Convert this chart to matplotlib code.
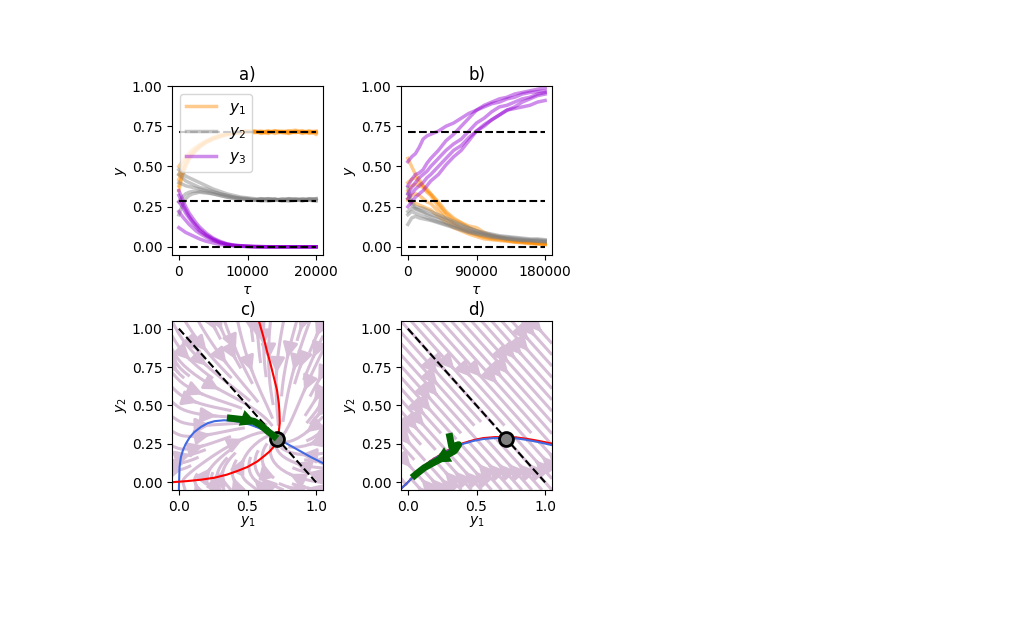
import numpy as np
from matplotlib import pyplot as plt

# time grids
tau_a = [0, 500, 1000, 1500, 2000, 2500, 3000, 4000, 5000, 6000, 7000, 8000,
         9000, 10000, 11000, 12000, 13000, 14000, 15000, 16000, 17000, 18000, 19000, 20000]
tau_b = [0, 5000, 10000, 15000, 20000, 25000, 30000, 40000, 50000, 60000, 70000,
         80000, 90000, 100000, 110000, 120000, 130000, 140000, 150000, 160000, 170000, 180000]

# panel a runs
a_y1 = [
    [0.50, 0.53, 0.56, 0.585, 0.605, 0.62, 0.635, 0.66, 0.68, 0.695, 0.705, 0.71, 0.715, 0.72, 0.715, 0.72, 0.71, 0.72, 0.715, 0.72, 0.725, 0.715, 0.72, 0.71],
    [0.45, 0.50, 0.54, 0.57, 0.595, 0.615, 0.63, 0.655, 0.675, 0.69, 0.70, 0.71, 0.715, 0.72, 0.71, 0.715, 0.72, 0.705, 0.715, 0.72, 0.71, 0.72, 0.705, 0.715],
    [0.42, 0.47, 0.52, 0.555, 0.58, 0.60, 0.62, 0.65, 0.67, 0.685, 0.70, 0.705, 0.71, 0.715, 0.72, 0.705, 0.715, 0.72, 0.71, 0.705, 0.715, 0.71, 0.72, 0.70],
    [0.38, 0.45, 0.51, 0.55, 0.58, 0.60, 0.625, 0.655, 0.675, 0.69, 0.70, 0.71, 0.72, 0.71, 0.72, 0.715, 0.705, 0.72, 0.715, 0.71, 0.72, 0.705, 0.715, 0.72],
    [0.35, 0.44, 0.50, 0.545, 0.575, 0.60, 0.62, 0.65, 0.67, 0.685, 0.695, 0.705, 0.71, 0.72, 0.715, 0.71, 0.72, 0.715, 0.72, 0.71, 0.715, 0.72, 0.71, 0.715],
]
a_y2 = [
    [0.48, 0.46, 0.44, 0.43, 0.42, 0.41, 0.40, 0.38, 0.36, 0.345, 0.33, 0.32, 0.31, 0.305, 0.30, 0.295, 0.30, 0.29, 0.295, 0.30, 0.29, 0.295, 0.30, 0.295],
    [0.45, 0.43, 0.41, 0.40, 0.39, 0.38, 0.37, 0.36, 0.345, 0.33, 0.32, 0.31, 0.305, 0.30, 0.29, 0.30, 0.295, 0.30, 0.285, 0.295, 0.30, 0.29, 0.295, 0.30],
    [0.40, 0.39, 0.38, 0.375, 0.37, 0.365, 0.36, 0.35, 0.34, 0.33, 0.32, 0.31, 0.30, 0.30, 0.295, 0.29, 0.30, 0.295, 0.29, 0.30, 0.295, 0.30, 0.29, 0.30],
    [0.28, 0.31, 0.33, 0.34, 0.345, 0.345, 0.345, 0.34, 0.33, 0.32, 0.31, 0.305, 0.30, 0.295, 0.29, 0.30, 0.285, 0.29, 0.30, 0.29, 0.295, 0.285, 0.30, 0.29],
    [0.20, 0.26, 0.30, 0.32, 0.33, 0.335, 0.34, 0.335, 0.33, 0.32, 0.31, 0.30, 0.30, 0.29, 0.295, 0.285, 0.29, 0.295, 0.29, 0.285, 0.29, 0.295, 0.29, 0.285],
]
a_y3 = [
    [0.35, 0.30, 0.25, 0.21, 0.18, 0.15, 0.125, 0.085, 0.055, 0.035, 0.02, 0.012, 0.008, 0.005, 0.003, 0.002, 0.002, 0.001, 0.001, 0.001, 0.001, 0.001, 0.001, 0.001],
    [0.32, 0.27, 0.23, 0.19, 0.16, 0.135, 0.11, 0.075, 0.05, 0.03, 0.018, 0.01, 0.007, 0.004, 0.003, 0.002, 0.001, 0.001, 0.001, 0.001, 0.001, 0.001, 0.001, 0.001],
    [0.28, 0.25, 0.21, 0.18, 0.15, 0.125, 0.10, 0.07, 0.045, 0.028, 0.016, 0.009, 0.006, 0.004, 0.002, 0.002, 0.001, 0.001, 0.001, 0.001, 0.001, 0.001, 0.001, 0.001],
    [0.22, 0.19, 0.165, 0.14, 0.12, 0.10, 0.085, 0.06, 0.04, 0.025, 0.015, 0.009, 0.005, 0.003, 0.002, 0.001, 0.001, 0.001, 0.001, 0.001, 0.001, 0.001, 0.001, 0.001],
    [0.12, 0.105, 0.09, 0.08, 0.07, 0.06, 0.05, 0.035, 0.025, 0.015, 0.01, 0.006, 0.004, 0.002, 0.001, 0.001, 0.001, 0.001, 0.001, 0.001, 0.001, 0.001, 0.001, 0.001],
]

# panel b runs
b_y1 = [
    [0.55, 0.50, 0.45, 0.42, 0.38, 0.36, 0.33, 0.28, 0.22, 0.18, 0.15, 0.13, 0.12, 0.09, 0.07, 0.06, 0.05, 0.04, 0.035, 0.03, 0.025, 0.02],
    [0.40, 0.42, 0.43, 0.40, 0.38, 0.35, 0.33, 0.27, 0.21, 0.17, 0.15, 0.12, 0.10, 0.08, 0.07, 0.06, 0.05, 0.04, 0.035, 0.03, 0.025, 0.02],
    [0.35, 0.38, 0.39, 0.38, 0.37, 0.34, 0.32, 0.25, 0.19, 0.15, 0.12, 0.10, 0.08, 0.065, 0.055, 0.05, 0.04, 0.035, 0.03, 0.025, 0.02, 0.015],
    [0.30, 0.32, 0.33, 0.32, 0.30, 0.28, 0.27, 0.22, 0.17, 0.14, 0.11, 0.09, 0.075, 0.06, 0.05, 0.045, 0.04, 0.03, 0.03, 0.025, 0.02, 0.02],
    [0.29, 0.28, 0.27, 0.26, 0.25, 0.24, 0.23, 0.19, 0.15, 0.12, 0.10, 0.08, 0.065, 0.05, 0.045, 0.04, 0.035, 0.03, 0.025, 0.02, 0.02, 0.015],
]
b_y2 = [
    [0.37, 0.28, 0.25, 0.245, 0.24, 0.23, 0.22, 0.20, 0.18, 0.16, 0.14, 0.12, 0.10, 0.09, 0.08, 0.07, 0.065, 0.06, 0.055, 0.05, 0.05, 0.045],
    [0.33, 0.26, 0.24, 0.23, 0.22, 0.21, 0.20, 0.185, 0.17, 0.15, 0.13, 0.115, 0.10, 0.085, 0.075, 0.065, 0.06, 0.055, 0.05, 0.045, 0.045, 0.04],
    [0.22, 0.24, 0.235, 0.225, 0.215, 0.20, 0.19, 0.17, 0.15, 0.135, 0.12, 0.10, 0.09, 0.08, 0.07, 0.06, 0.055, 0.05, 0.045, 0.04, 0.04, 0.035],
    [0.20, 0.22, 0.21, 0.20, 0.19, 0.18, 0.17, 0.155, 0.14, 0.125, 0.11, 0.095, 0.085, 0.075, 0.065, 0.06, 0.05, 0.045, 0.04, 0.04, 0.035, 0.035],
    [0.14, 0.18, 0.19, 0.18, 0.175, 0.17, 0.165, 0.15, 0.135, 0.12, 0.105, 0.09, 0.08, 0.07, 0.06, 0.055, 0.05, 0.045, 0.04, 0.04, 0.035, 0.03],
]
b_y3 = [
    [0.53, 0.56, 0.58, 0.62, 0.67, 0.69, 0.70, 0.72, 0.75, 0.77, 0.80, 0.83, 0.85, 0.88, 0.90, 0.92, 0.93, 0.95, 0.96, 0.97, 0.98, 0.99],
    [0.38, 0.42, 0.45, 0.46, 0.48, 0.52, 0.55, 0.60, 0.66, 0.70, 0.75, 0.80, 0.85, 0.87, 0.89, 0.90, 0.92, 0.93, 0.95, 0.96, 0.965, 0.97],
    [0.33, 0.37, 0.40, 0.43, 0.45, 0.47, 0.50, 0.55, 0.60, 0.64, 0.67, 0.72, 0.77, 0.80, 0.84, 0.87, 0.88, 0.90, 0.92, 0.93, 0.95, 0.96],
    [0.30, 0.33, 0.36, 0.38, 0.40, 0.43, 0.45, 0.50, 0.55, 0.60, 0.63, 0.68, 0.72, 0.75, 0.79, 0.82, 0.85, 0.86, 0.87, 0.88, 0.90, 0.91],
    [0.25, 0.28, 0.31, 0.33, 0.35, 0.38, 0.41, 0.45, 0.51, 0.56, 0.60, 0.66, 0.72, 0.76, 0.79, 0.82, 0.85, 0.87, 0.90, 0.92, 0.94, 0.95],
]

# fixed point
fp_y1 = 0.715
fp_y2 = 0.285
fp_y3 = 0.0

# nullclines panel c
c_blue_y1 = [0.0, 0.005, 0.015, 0.03, 0.05, 0.077, 0.11, 0.16, 0.21, 0.26, 0.33, 0.40, 0.46, 0.52, 0.58, 0.64, 0.715, 0.80, 0.88, 0.96, 1.06]
c_blue_y2 = [-0.05, 0.10, 0.165, 0.21, 0.25, 0.29, 0.325, 0.36, 0.385, 0.398, 0.404, 0.400, 0.39, 0.375, 0.355, 0.33, 0.285, 0.245, 0.205, 0.165, 0.12]
c_red_y2 = [0.0, 0.008, 0.017, 0.03, 0.05, 0.075, 0.10, 0.135, 0.17, 0.20, 0.23, 0.26, 0.285, 0.33, 0.386, 0.45, 0.516, 0.60, 0.69, 0.78, 0.86, 0.95, 1.06]
c_red_y1 = [-0.06, 0.06, 0.16, 0.26, 0.35, 0.43, 0.50, 0.57, 0.62, 0.66, 0.69, 0.705, 0.715, 0.728, 0.735, 0.733, 0.728, 0.715, 0.69, 0.665, 0.64, 0.615, 0.58]

# nullclines panel d
d_blue_y1 = [-0.06, 0.0, 0.065, 0.16, 0.28, 0.40, 0.48, 0.55, 0.63, 0.715, 0.79, 0.86, 0.95, 1.06]
d_blue_y2 = [-0.05, 0.0, 0.06, 0.135, 0.20, 0.25, 0.27, 0.282, 0.288, 0.29, 0.286, 0.277, 0.262, 0.24]
d_red_y2 = [-0.05, 0.0, 0.06, 0.137, 0.203, 0.254, 0.275, 0.288, 0.294, 0.295, 0.292, 0.284, 0.27, 0.25]

# green trajectories
c_traj_y1 = [0.35, 0.40, 0.45, 0.50, 0.547, 0.59, 0.62, 0.65, 0.68, 0.715]
c_traj_y2 = [0.42, 0.415, 0.41, 0.405, 0.397, 0.375, 0.354, 0.33, 0.31, 0.285]
d_traj_y1 = [0.30, 0.31, 0.32, 0.37, 0.34, 0.28, 0.23, 0.17, 0.12, 0.07, 0.03]
d_traj_y2 = [0.32, 0.275, 0.23, 0.245, 0.205, 0.175, 0.148, 0.12, 0.095, 0.06, 0.03]

orange = 'darkorange'
grey = 'gray'
purple = 'darkviolet'
w = 151 / 1024
h = 169 / 621

fig = plt.figure(figsize=(10.24, 6.21), dpi=100)
ax_a = fig.add_axes([172 / 1024, 1 - 255 / 621, w, h])
ax_b = fig.add_axes([401 / 1024, 1 - 255 / 621, w, h])
ax_c = fig.add_axes([172 / 1024, 1 - 490 / 621, w, h])
ax_d = fig.add_axes([401 / 1024, 1 - 490 / 621, w, h])

# a)
for i in range(len(a_y1)):
    ax_a.plot(tau_a, a_y1[i], color=orange, alpha=0.45, lw=2.5, label='$y_1$' if i == 0 else None)
for i in range(len(a_y2)):
    ax_a.plot(tau_a, a_y2[i], color=grey, alpha=0.45, lw=2.5, label='$y_2$' if i == 0 else None)
for i in range(len(a_y3)):
    ax_a.plot(tau_a, a_y3[i], color=purple, alpha=0.45, lw=2.5, label='$y_3$' if i == 0 else None)
for v in [fp_y1, fp_y2, fp_y3]:
    ax_a.hlines(v, tau_a[0], tau_a[-1], colors='k', linestyles='--')
ax_a.set_ylim(-0.05, 1.0)
ax_a.set_yticks([0, 0.25, 0.5, 0.75, 1.0])
ax_a.set_xticks([0, 10000, 20000])
ax_a.set_xlabel(r'$\tau$', labelpad=3)
ax_a.set_ylabel('$y$', labelpad=2)
ax_a.set_title('a)', pad=4)
ax_a.legend(loc='upper left', fontsize=11)

# b)
for run in b_y1:
    ax_b.plot(tau_b, run, color=orange, alpha=0.45, lw=2.5)
for run in b_y2:
    ax_b.plot(tau_b, run, color=grey, alpha=0.45, lw=2.5)
for run in b_y3:
    ax_b.plot(tau_b, run, color=purple, alpha=0.45, lw=2.5)
for v in [fp_y1, fp_y2, fp_y3]:
    ax_b.hlines(v, tau_b[0], tau_b[-1], colors='k', linestyles='--')
ax_b.set_ylim(-0.05, 1.0)
ax_b.set_yticks([0, 0.25, 0.5, 0.75, 1.0])
ax_b.set_xticks([0, 90000, 180000])
ax_b.set_xlabel(r'$\tau$', labelpad=3)
ax_b.set_ylabel('$y$', labelpad=2)
ax_b.set_title('b)', pad=4)

# vector fields built from the nullclines
g1, g2 = np.meshgrid(np.linspace(-0.05, 1.05, 60), np.linspace(-0.05, 1.05, 60))
u_c = np.interp(g2, c_red_y2, c_red_y1) - g1
v_c = np.interp(g1, c_blue_y1, c_blue_y2) - g2
s_d = g2 - np.interp(g1, d_blue_y1, d_blue_y2)
u_d = s_d
v_d = -s_d

# c)
ax_c.streamplot(g1, g2, u_c, v_c, color='thistle', linewidth=2.2, arrowsize=2.2, density=0.8)
ax_c.plot([0, 1], [1, 0], 'k--')
ax_c.plot(c_blue_y1, c_blue_y2, color='royalblue', lw=1.5)
ax_c.plot(c_red_y1, c_red_y2, color='red', lw=1.5)
ax_c.plot(fp_y1, fp_y2, 'o', color='gray', mec='k', mew=2, ms=10)
ax_c.plot(c_traj_y1, c_traj_y2, color='darkgreen', lw=5, solid_capstyle='butt')
ax_c.annotate('', xy=(c_traj_y1[5], c_traj_y2[5]), xytext=(c_traj_y1[3], c_traj_y2[3]),
              arrowprops=dict(arrowstyle='-|>', color='darkgreen', mutation_scale=30, lw=0))
ax_c.set_xlim(-0.05, 1.05)
ax_c.set_ylim(-0.05, 1.05)
ax_c.set_xticks([0, 0.5, 1.0])
ax_c.set_yticks([0, 0.25, 0.5, 0.75, 1.0])
ax_c.set_xlabel('$y_1$', labelpad=0)
ax_c.set_ylabel('$y_2$', labelpad=2)
ax_c.set_title('c)', pad=4)

# d)
ax_d.streamplot(g1, g2, u_d, v_d, color='thistle', linewidth=2.2, arrowsize=2.2, density=0.55)
ax_d.plot([0, 1], [1, 0], 'k--')
ax_d.plot(d_blue_y1, d_red_y2, color='red', lw=1.5)
ax_d.plot(d_blue_y1, d_blue_y2, color='royalblue', lw=1.5)
ax_d.plot(fp_y1, fp_y2, 'o', color='gray', mec='k', mew=2, ms=10)
ax_d.plot(d_traj_y1, d_traj_y2, color='darkgreen', lw=5, solid_capstyle='butt')
ax_d.annotate('', xy=(d_traj_y1[7], d_traj_y2[7]), xytext=(d_traj_y1[5], d_traj_y2[5]),
              arrowprops=dict(arrowstyle='-|>', color='darkgreen', mutation_scale=30, lw=0))
ax_d.set_xlim(-0.05, 1.05)
ax_d.set_ylim(-0.05, 1.05)
ax_d.set_xticks([0, 0.5, 1.0])
ax_d.set_yticks([0, 0.25, 0.5, 0.75, 1.0])
ax_d.set_xlabel('$y_1$', labelpad=0)
ax_d.set_ylabel('$y_2$', labelpad=2)
ax_d.set_title('d)', pad=4)

plt.savefig('out.png', dpi=100)
